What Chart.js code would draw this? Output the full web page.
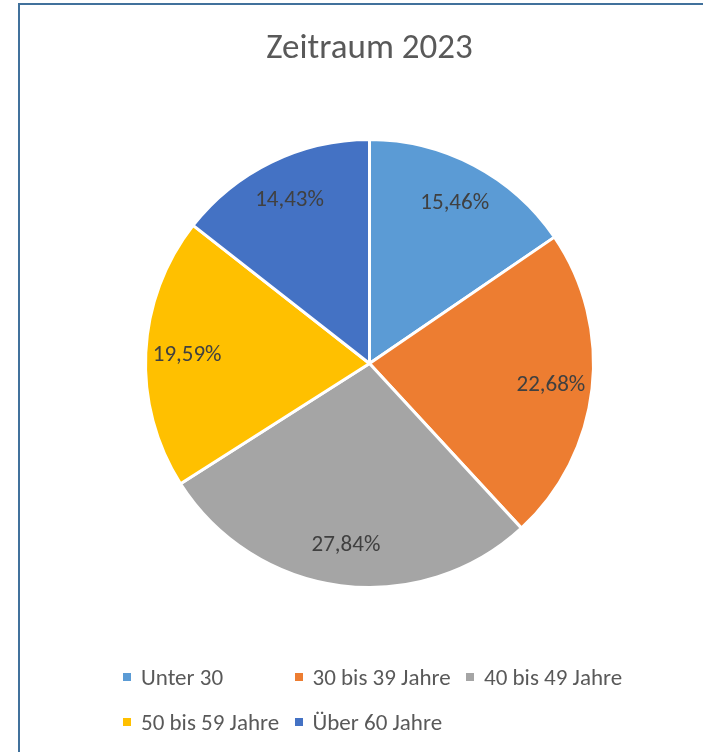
<!DOCTYPE html>
<html>
<head>
<meta charset="utf-8">
<script src="https://cdn.jsdelivr.net/npm/chart.js@4"></script>
<style>
  html, body { margin: 0; padding: 0; background: #fff; }
  body { width: 703px; height: 752px; position: relative; overflow: hidden; font-family: Carlito, Lato, sans-serif; }
  #frame { position: absolute; left: 18px; top: 3px; width: 700px; height: 760px;
           border-left: 2px solid #41719C; border-top: 2px solid #41719C; }
  #pie { position: absolute; left: 0; top: 0; }
  #legend { position: absolute; left: 0; top: 0; }
  .item { position: absolute; display: flex; align-items: center; height: 30px;
          font-size: 23px; color: #595959; white-space: nowrap; }
  .box { width: 8px; height: 8px; margin-right: 10px; }
</style>
</head>
<body>
<div id="frame"></div>
<canvas id="pie" width="703" height="752"></canvas>
<div id="legend"></div>
<script>
const categories = ['Unter 30', '30 bis 39 Jahre', '40 bis 49 Jahre', '50 bis 59 Jahre', 'Über 60 Jahre'];
const shares = [15.46, 22.68, 27.84, 19.59, 14.43];
const sliceColors = ['#5B9BD5', '#ED7D31', '#A5A5A5', '#FFC000', '#4472C4'];

// percent labels inside the slices, like Excel's data labels
const sliceLabels = {
    id: 'sliceLabels',
    afterDatasetsDraw(chart) {
        const ctx = chart.ctx;
        const meta = chart.getDatasetMeta(0);
        ctx.save();
        ctx.font = '23px Carlito, Lato, sans-serif';
        ctx.fillStyle = '#404040';
        ctx.textAlign = 'center';
        ctx.textBaseline = 'middle';
        meta.data.forEach((arc, i) => {
            const p = arc.getProps(['x', 'y', 'startAngle', 'endAngle', 'outerRadius'], true);
            const mid = (p.startAngle + p.endAngle) / 2;
            const r = p.outerRadius * 0.815;
            const txt = shares[i].toFixed(2).replace('.', ',') + '%';
            ctx.fillText(txt, p.x + Math.cos(mid) * r, p.y + Math.sin(mid) * r + 1);
        });
        ctx.restore();
    }
};

let ctx = document.getElementById('pie');
let myPie = new Chart(ctx, {
    type: 'pie',
    data: {
        labels: categories,
        datasets: [{
            data: shares,
            backgroundColor: sliceColors,
            borderColor: '#ffffff',
            borderWidth: 3,
            radius: 224
        }]
    },
    options: {
        responsive: false,
        animation: false,
        layout: {
            padding: { left: 147, right: 111, top: 0, bottom: 165 }
        },
        plugins: {
            legend: { display: false },
            tooltip: { enabled: false },
            title: {
                display: true,
                text: 'Zeitraum 2023',
                color: '#595959',
                font: { family: 'Carlito, Lato, sans-serif', size: 35, weight: 'normal' },
                padding: { top: 28, bottom: 70 }
            }
        }
    },
    plugins: [sliceLabels]
});

// legend laid out in fixed columns as in the original
const legend = document.getElementById('legend');
categories.forEach((name, i) => {
    const col = i % 3, row = Math.floor(i / 3);
    const el = document.createElement('div');
    el.className = 'item';
    el.style.left = (123 + col * 171.5) + 'px';
    el.style.top = (662 + row * 45) + 'px';
    el.innerHTML = '<span class="box" style="background:' + sliceColors[i] + '"></span>' + name;
    legend.appendChild(el);
});
</script>
</body>
</html>
